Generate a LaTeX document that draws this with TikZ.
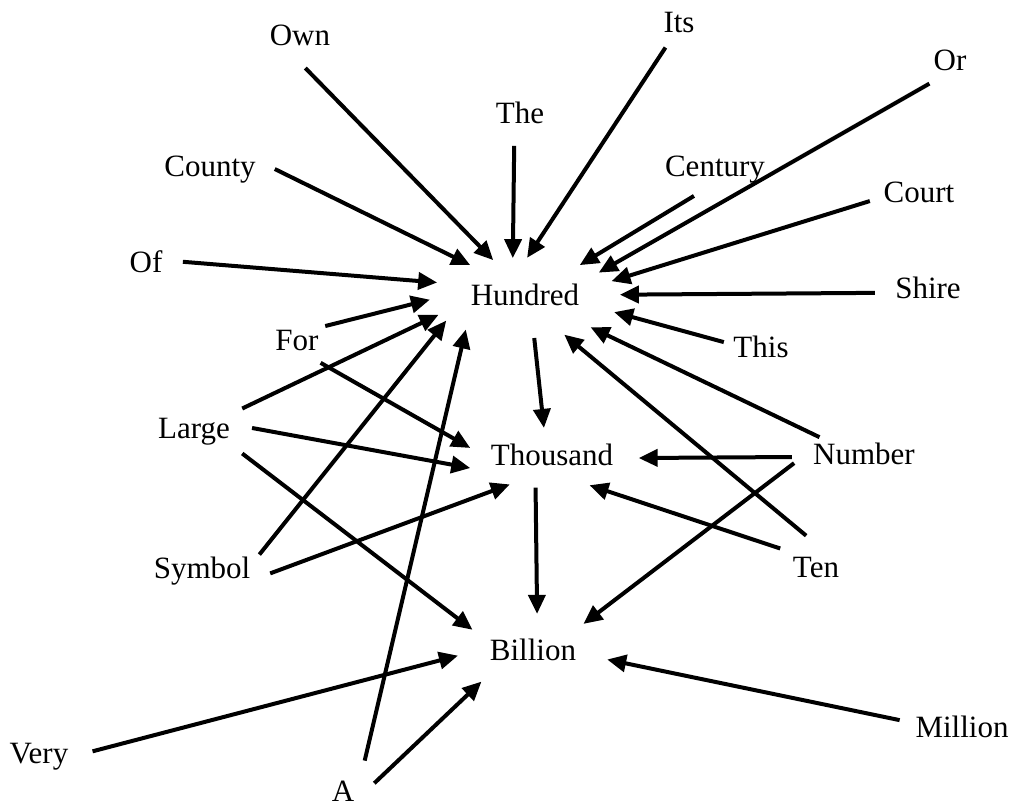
\documentclass[tikz,border=0pt]{standalone}
\usepackage{fontspec}
\newfontfamily\wf{Liberation Serif}
\usetikzlibrary{shapes.geometric,arrows.meta}
\tikzset{
  w/.style={ellipse, inner sep=0pt, text height=21pt, text depth=7pt,
            font={\wf\fontsize{31}{36}\selectfont}},
  e/.style={line width=4pt, -{Triangle[length=19pt,width=17pt]}}
}
\begin{document}
\begin{tikzpicture}[x=1pt,y=-1pt]
\useasboundingbox (0,0) rectangle (1009,807);
% central nodes
\node[w, minimum width=190pt, minimum height=80pt] (H) at (525,298) {Hundred};
\node[w, minimum width=150pt, minimum height=60pt] (T) at (552,458) {Thousand};
\node[w, minimum width=150pt, minimum height=78pt] (B) at (533,653) {Billion};
% outer nodes
\node[w, minimum width=90pt,  minimum height=60pt] (Own)     at (300,38)  {Own};
\node[w, minimum width=60pt,  minimum height=50pt] (Its)     at (679,25)  {Its};
\node[w, minimum width=60pt,  minimum height=56pt] (Or)      at (950,63)  {Or};
\node[w, minimum width=80pt,  minimum height=60pt] (The)     at (520,116) {The};
\node[w, minimum width=122pt, minimum height=60pt] (County)  at (210,169) {County};
\node[w, minimum width=130pt, minimum height=56pt] (Century) at (715,169) {Century};
\node[w, minimum width=100pt, minimum height=60pt] (Court)   at (919,195) {Court};
\node[w, minimum width=74pt,  minimum height=50pt] (Of)      at (146,265) {Of};
\node[w, minimum width=106pt, minimum height=60pt] (Shire)   at (928,291) {Shire};
\node[w, minimum width=76pt,  minimum height=50pt] (For)     at (297,343) {For};
\node[w, minimum width=76pt,  minimum height=50pt] (This)    at (761,350) {This};
\node[w, minimum width=116pt, minimum height=80pt] (Large)   at (194,431) {Large};
\node[w, minimum width=142pt, minimum height=50pt] (Number)  at (864,457) {Number};
\node[w, minimum width=130pt, minimum height=60pt] (Symbol)  at (202,571) {Symbol};
\node[w, minimum width=90pt,  minimum height=70pt] (Ten)     at (816,570) {Ten};
\node[w, minimum width=106pt, minimum height=60pt] (Million) at (962,730) {Million};
\node[w, minimum width=108pt, minimum height=60pt] (Very)    at (39,756)  {Very};
\node[w, minimum width=64pt,  minimum height=90pt] (A)       at (343,794) {A};
% edges into Hundred
\draw[e] (Own.-80) -- (H.130);
\draw[e] (The.-101) -- (H.107);
\draw[e] (Its.-121) -- (H.87);
\draw[e] (Century.-128) -- (H.31);
\draw[e] (Or.-135) -- (H.19);
\draw[e] (Court.187) -- (H.11);
\draw[e] (Shire.182) -- (H.2);
\draw[e] (This.168) -- (H.-9);
\draw[e] (Number.156) -- (H.-24);
\draw[e] (Ten.106) -- (H.-43);
\draw[e] (A.57) -- (H.208);
\draw[e] (Symbol.16) -- (H.196);
\draw[e] (Large.25) -- (H.191);
\draw[e] (For.31) -- (H.181);
\draw[e] (Of.5) -- (H.170);
\draw[e] (County.0) -- (H.149);
% edges into Thousand
\draw[e] (H.-77) -- (T.105);
\draw[e] (For.-40) -- (T.173);
\draw[e] (Large.3) -- (T.187);
\draw[e] (Symbol.-2) -- (T.212);
\draw[e] (Ten.149) -- (T.-36);
\draw[e] (Number.180) -- (T.0);
% edges into Billion
\draw[e] (T.241) -- (B.84);
\draw[e] (Large.-25) -- (B.159);
\draw[e] (Number.185) -- (B.30);
\draw[e] (Very.5) -- (B.182);
\draw[e] (A.19) -- (B.209);
\draw[e] (Million.171) -- (B.-5);
\end{tikzpicture}
\end{document}
